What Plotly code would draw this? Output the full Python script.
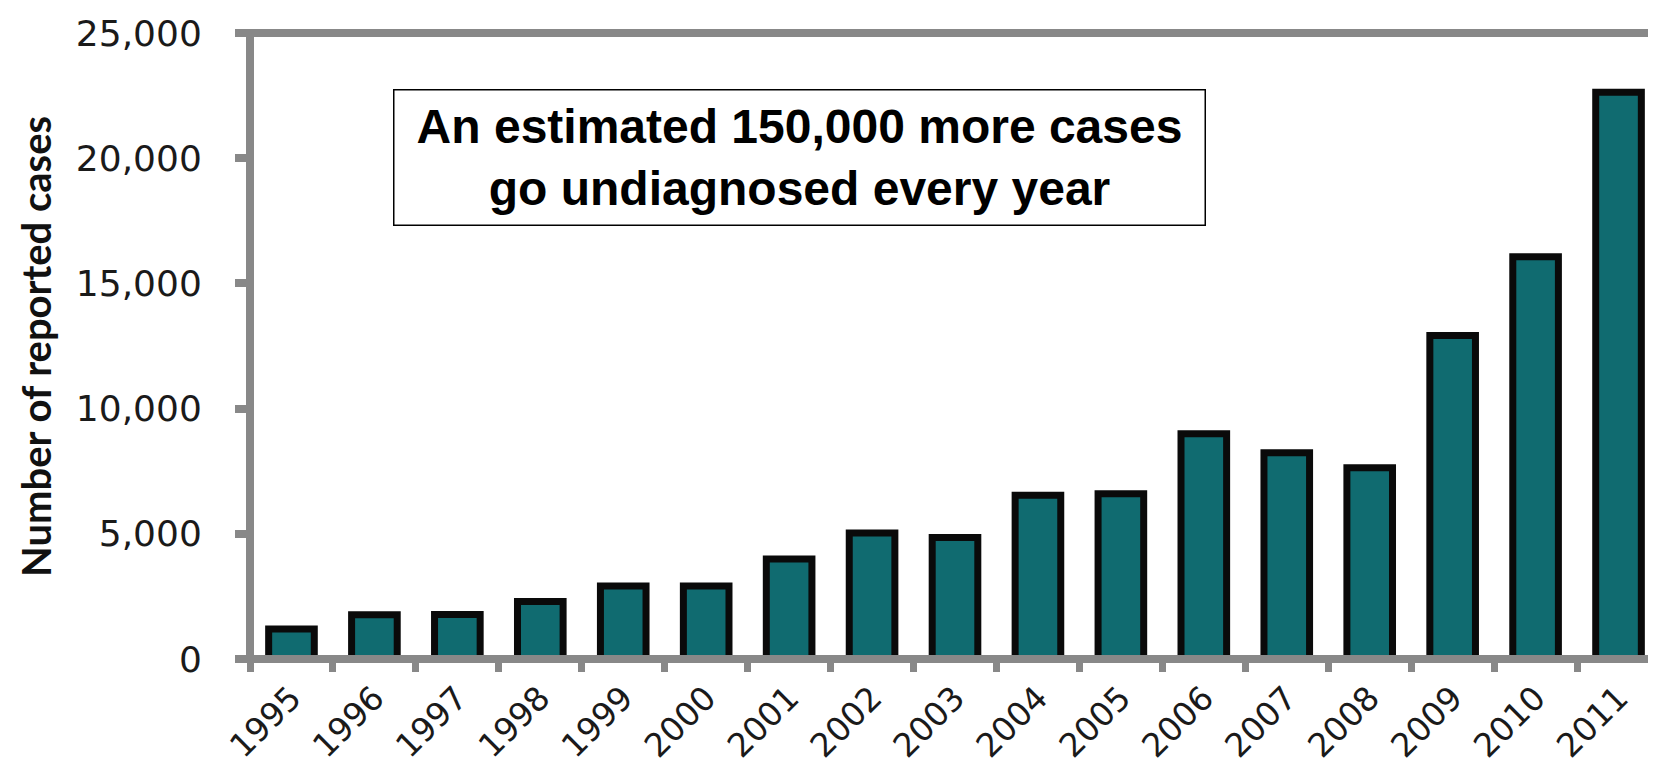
import plotly.graph_objects as go

years = ["1995", "1996", "1997", "1998", "1999", "2000", "2001", "2002", "2003",
         "2004", "2005", "2006", "2007", "2008", "2009", "2010", "2011"]
cases = [1200, 1770, 1780, 2300, 2920, 2920, 3990, 5030, 4850,
         6540, 6600, 9000, 8240, 7640, 12920, 16060, 22630]
y_ticks = [0, 5000, 10000, 15000, 20000, 25000]
note_text = "An estimated 150,000 more cases<br>go undiagnosed every year"
y_title = "Number of reported cases"

AXIS_GRAY = "#888888"

fig = go.Figure(
    go.Bar(
        x=years,
        y=cases,
        marker=dict(color="#106B70", line=dict(color="#0a0a0a", width=7)),
    )
)

fig.update_layout(
    width=1656,
    height=768,
    margin=dict(l=242, r=4, t=25, b=117),
    paper_bgcolor="white",
    plot_bgcolor="white",
    bargap=0.45,
    showlegend=False,
    xaxis=dict(
        type="category",
        automargin=False,
        showline=False,
        showgrid=False,
        zeroline=False,
        ticks="outside",
        tickson="boundaries",
        ticklen=12,
        tickwidth=7,
        tickcolor=AXIS_GRAY,
        tickangle=-45,
        ticklabelstandoff=12,
        tickfont=dict(family="DejaVu Sans", size=33, color="#1a1a1a"),
    ),
    yaxis=dict(
        range=[0, 25000],
        tickvals=y_ticks,
        tickformat=",",
        automargin=False,
        showline=False,
        showgrid=False,
        zeroline=False,
        ticks="outside",
        ticklen=14,
        tickwidth=8,
        tickcolor=AXIS_GRAY,
        ticklabelstandoff=26,
        tickfont=dict(family="DejaVu Sans", size=36, color="#1a1a1a"),
    ),
    shapes=[
        dict(
            type="rect",
            xref="paper", yref="paper",
            x0=0, x1=1, y0=0, y1=1,
            line=dict(color=AXIS_GRAY, width=8),
            layer="above",
        )
    ],
    annotations=[
        dict(
            xref="paper", yref="paper",
            x=0.39, y=0.8005,
            xanchor="center", yanchor="middle",
            text=note_text,
            showarrow=False,
            align="center",
            font=dict(family="Liberation Sans", size=48, color="black", weight="bold"),
            bordercolor="black",
            borderwidth=1.5,
            borderpad=2,
            bgcolor="white",
            width=806,
            height=130,
        ),
        dict(
            xref="paper", yref="paper",
            x=-0.1518, y=0.5,
            xanchor="center", yanchor="middle",
            text=y_title,
            textangle=-90,
            showarrow=False,
            font=dict(family="Lato", size=40, color="#111111", weight="bold"),
        ),
    ],
)

fig.write_html("out.html")
